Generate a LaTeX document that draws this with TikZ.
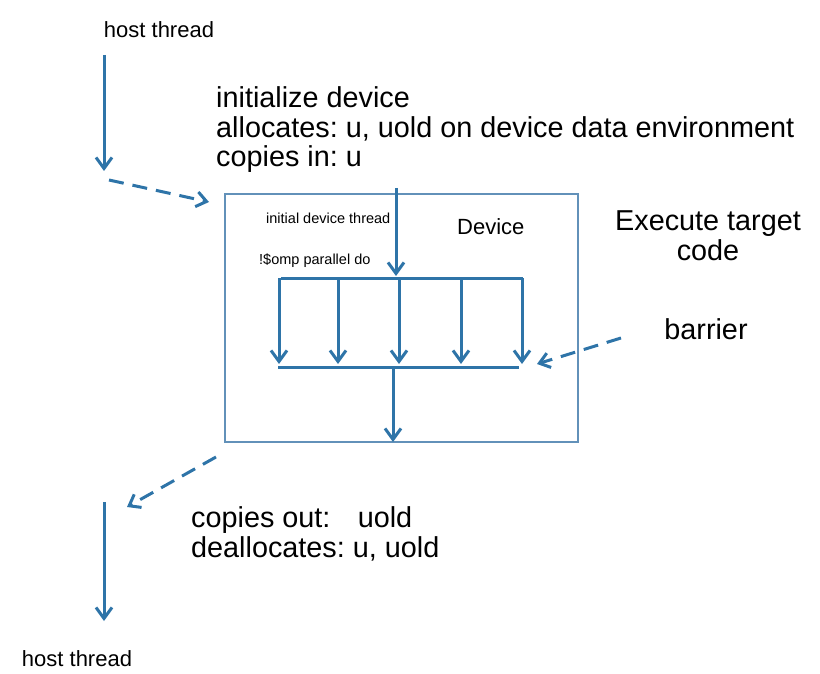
\documentclass[tikz,border=0pt]{standalone}
\usepackage{fontspec}
\setmainfont{Liberation Sans}
\usetikzlibrary{arrows.meta}
\definecolor{thrblue}{RGB}{46,116,168}
\definecolor{boxblue}{RGB}{98,145,185}
\frenchspacing

\begin{document}
\begin{tikzpicture}[x=1pt,y=-1pt,
    thread/.style={thrblue, line width=3pt, -{Straight Barb[length=11pt,width=16pt]}},
    bar/.style={thrblue, line width=3pt},
    dasharrow/.style={thrblue, line width=3pt, dash pattern=on 15pt off 9pt, -{Straight Barb[length=10pt,width=15pt]}},
    bigtext/.style={inner sep=0pt, font=\fontsize{28.8}{29.8}\selectfont},
    smalltext/.style={inner sep=0pt, font=\fontsize{14.5}{16}\selectfont},
    midtext/.style={inner sep=0pt, font=\fontsize{22}{24}\selectfont}]
  \useasboundingbox (0,0) rectangle (820,674);
  %%%%%%%%%%%%%%%% host side
  \node[midtext, anchor=base] (hostin) at (159,38) {host thread};
  \coordinate (hinA) at (104,55);
  \coordinate (hinB) at (104,171);
  \draw[thread] (hinA) -- (hinB);
  \node[bigtext, anchor=base west, align=left] (alloc) at (216,167)
    {initialize device\\allocates: u, uold on device data environment\\copies in: u};
  %%%%%%%%%%%%%%%% device box
  \draw[boxblue, line width=1.1pt] (225,194) rectangle (578,442);
  \node[midtext, anchor=base west] (device) at (457,235) {Device};
  \node[smalltext, anchor=base west] (initdev) at (266,224) {initial device thread};
  \node[smalltext, anchor=base west] (ompdo) at (259,265) {!\$omp parallel do};
  \coordinate (start) at (396,188);
  \coordinate (forkL) at (281,278);
  \coordinate (forkR) at (523,278);
  \coordinate (joinL) at (278,367);
  \coordinate (joinR) at (519,367);
  \draw[thread] (start) -- (396,276);
  \draw[bar] (forkL) -- (forkR);
  \foreach \x in {279,338,399,461,522}
    \draw[thread] (\x,278) -- (\x,364);
  \draw[bar] (joinL) -- (joinR);
  \coordinate (endT) at (393,442);
  \draw[thread] (393,367) -- (endT);
  %%%%%%%%%%%%%%%% labels on the right
  \node[bigtext, anchor=base, align=center] (exec) at (708,260) {Execute target\\code};
  \node[bigtext, anchor=base] (barrier) at (706,339) {barrier};
  %%%%%%%%%%%%%%%% dashed hand-overs
  \coordinate (d1a) at (109,180);
  \coordinate (d1b) at (209,202);
  \draw[dasharrow] (d1a) -- (d1b);
  \coordinate (d2a) at (621,338);
  \coordinate (d2b) at (537,364);
  \draw[dasharrow] (d2a) -- (d2b);
  \coordinate (d3a) at (216,457);
  \coordinate (d3b) at (127,507);
  \draw[dasharrow] (d3a) -- (d3b);
  %%%%%%%%%%%%%%%% back on host
  \node[bigtext, anchor=base west, align=left] (copyout) at (191,557)
    {copies out:\hspace{0.95em}uold\\deallocates: u, uold};
  \coordinate (houtA) at (104,502);
  \coordinate (houtB) at (104,621);
  \draw[thread] (houtA) -- (houtB);
  \node[midtext, anchor=base] (hostout) at (77,666) {host thread};
\end{tikzpicture}
\end{document}
